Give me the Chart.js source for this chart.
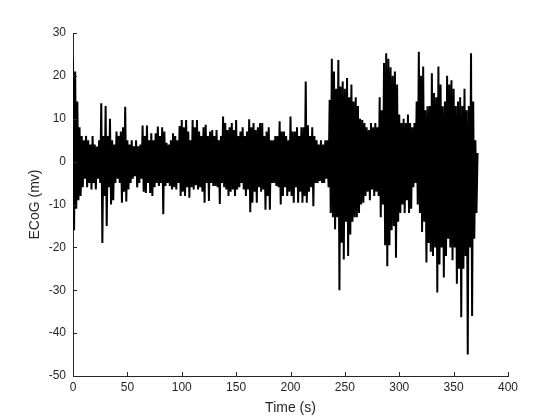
<!DOCTYPE html>
<html>
<head>
<meta charset="utf-8">
<script src="https://cdn.jsdelivr.net/npm/chart.js@4.4.1/dist/chart.umd.min.js"></script>
<style>
  body { margin: 0; background: #fff; }
  #wrap { width: 560px; height: 420px; }
</style>
</head>
<body>
<div id="wrap"><canvas id="Chart" width="560" height="420"></canvas></div>
<script>
// ECoG trace, one value per second (peaks and troughs)
const sampleStep = 1;
const ecog = [
  24, -16, 21, -11, 14, -9, 8, -8, 6, -6,
  5, -4, 6, -6, 5, -5, 4, -6.5, 6, -5,
  4, -6.5, 3.5, -4, 5, -5, 13.6, -19, 6, -8,
  13, -15, 6, -6, 10, -10, 5, -9, 4, -5,
  7, -4, 6, -5, 7, -9.6, 8, -7, 12.8, -9.3,
  5, -6.5, 4, -5, 5, -4, 3.6, -3.4, 5, -6,
  3.6, -5, 4, -4, 8.4, -7, 6, -7.3, 8.4, -5,
  5, -7.3, 6.6, -8, 5, -6, 6.6, -5, 8.2, -5.7,
  6, -5, 8, -12.3, 7, -5.7, 4.4, -5, 4, -5.7,
  5, -6.5, 6.6, -6, 6, -6.5, 5, -5, 8.3, -8,
  9.7, -7, 8, -8, 9.7, -6, 7, -8.4, 5, -6,
  9.7, -6.5, 8, -5.5, 9.7, -6.5, 7, -6, 6, -7,
  8, -9.6, 8.6, -5, 6, -9.2, 7, -5, 7.4, -5.7,
  6, -5.7, 7.4, -6, 5, -9.9, 6, -5, 10.5, -6,
  9, -6.5, 7.4, -8, 8, -7, 9, -6.5, 7.4, -8,
  9.7, -6.5, 6, -6, 7, -5, 8, -6.5, 6, -8,
  7, -6.5, 9.9, -11.8, 8, -9.6, 9, -7, 7.4, -9.6,
  8, -6, 9, -7, 9, -6.5, 6, -11.2, 7, -8,
  8, -11.2, 5, -5, 5, -5, 6, -5.7, 6, -6,
  9.4, -10, 7, -8, 7, -6, 6, -8, 5, -7,
  10.5, -8, 7, -9.6, 7, -6, 8, -9.6, 6, -7,
  8, -9.6, 8, -8, 18.7, -9.6, 8.5, -7, 6, -6,
  8, -10.4, 6, -5, 5, -5, 4, -4.5, 5, -5,
  4, -5, 5, -4, 5, -6, 14.4, -12, 24, -13,
  21, -15.8, 17, -13, 23.7, -30, 17.5, -18.9, 18.7, -22.8,
  17, -14, 19.5, -22, 15, -17, 18, -14, 14, -13,
  15, -13, 13, -12, 10, -10, 9.7, -9.6, 9, -8,
  8, -7, 7.4, -9, 9, -6.5, 8, -8, 9, -7,
  8, -8, 15, -13, 12, -10, 23, -19.5, 25.3, -24.4,
  24, -19.5, 22, -16, 20, -15, 21, -22.4, 18, -14,
  11, -12, 9, -10, 10, -12, 9, -9, 11, -12,
  9, -11, 8, -6, 9, -5, 14, -10, 25.6, -12,
  20, -16.4, 22.2, -14, 12, -23.5, 12.9, -19, 13, -21,
  20.6, -22, 16, -20, 15, -30.5, 22.2, -24, 18, -20,
  12.9, -27, 14, -22, 20, -18, 18, -20, 19, -23,
  17, -20, 13, -28.5, 14, -25, 15, -36.3, 13, -25,
  17, -22, 12, -45, 13, -20, 25.3, -36, 14, -18,
  5, -12, 2
];

const xTicks = [0, 50, 100, 150, 200, 250, 300, 350, 400];
const yTicks = [-50, -40, -30, -20, -10, 0, 10, 20, 30];

const axisColor = '#262626';
const fontFamily = "'Liberation Sans', Arial, Helvetica, sans-serif";

const points = ecog.map((v, i) => ({ x: i * sampleStep, y: v }));

// matlab style ticks pointing into the plot
const innerTicks = {
  id: 'innerTicks',
  afterDraw(chart) {
    const { ctx, chartArea, scales } = chart;
    ctx.save();
    ctx.strokeStyle = axisColor;
    ctx.lineWidth = 1;
    ctx.beginPath();
    xTicks.forEach(t => {
      const px = Math.round(scales.x.getPixelForValue(t)) + 0.5;
      ctx.moveTo(px, chartArea.bottom);
      ctx.lineTo(px, chartArea.bottom - 4);
    });
    yTicks.forEach(t => {
      const py = Math.round(scales.y.getPixelForValue(t)) + 0.5;
      ctx.moveTo(chartArea.left, py);
      ctx.lineTo(chartArea.left + 4, py);
    });
    ctx.stroke();
    ctx.restore();
  }
};

const config = {
  type: 'line',
  data: {
    datasets: [{
      label: 'ECoG',
      data: points,
      borderColor: '#000',
      borderWidth: 2,
      pointRadius: 0,
      tension: 0,
      fill: false,
    }],
  },
  options: {
    responsive: false,
    animation: false,
    layout: { padding: { left: 0, top: 33, right: 52, bottom: 0 } },
    plugins: {
      legend: { display: false },
      tooltip: { enabled: false },
    },
    scales: {
      x: {
        type: 'linear',
        min: 0,
        max: 400,
        afterBuildTicks: s => { s.ticks = xTicks.map(v => ({ value: v })); },
        afterFit: s => { s.height = 44; },
        grid: { display: false, drawTicks: false },
        border: { display: true, color: axisColor, width: 1 },
        ticks: {
          color: axisColor,
          padding: 4,
          maxRotation: 0,
          autoSkip: false,
          font: { family: fontFamily, size: 12 },
        },
        title: {
          display: true,
          text: 'Time (s)',
          color: axisColor,
          padding: { top: 0, bottom: 3 },
          font: { family: fontFamily, size: 14 },
        },
      },
      y: {
        type: 'linear',
        min: -50,
        max: 30,
        afterBuildTicks: s => { s.ticks = yTicks.map(v => ({ value: v })); },
        afterFit: s => { s.width = 73; },
        grid: { display: false, drawTicks: false },
        border: { display: true, color: axisColor, width: 1 },
        ticks: {
          color: axisColor,
          padding: 7,
          autoSkip: false,
          font: { family: fontFamily, size: 12 },
        },
        title: {
          display: true,
          text: 'ECoG (mv)',
          color: axisColor,
          padding: { top: 27, bottom: 0 },
          font: { family: fontFamily, size: 14 },
        },
      },
    },
  },
  plugins: [innerTicks],
};

const ctx = document.getElementById('Chart').getContext('2d');
const myChart = new Chart(ctx, config);
</script>
</body>
</html>
